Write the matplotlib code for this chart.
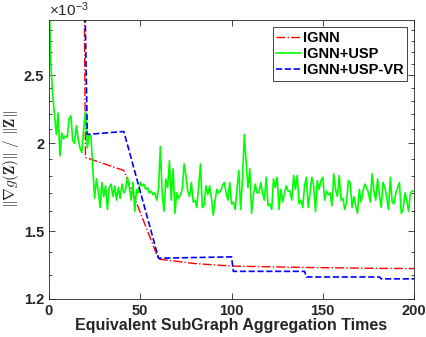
import matplotlib
matplotlib.use('Agg')
import matplotlib.pyplot as plt
from matplotlib.ticker import FixedLocator, NullFormatter, FixedFormatter

plt.rcParams['font.family'] = ['Liberation Sans', 'DejaVu Sans']
plt.rcParams['mathtext.fontset'] = 'cm'

# values in units of 1e-3
ignn_x = [19, 20, 41, 60, 80, 100, 120, 140, 160, 180, 200]
ignn_y = [4.0, 1.91, 1.83, 1.368, 1.348, 1.337, 1.334, 1.331, 1.329, 1.327, 1.326]

vr_x = [19, 21, 41, 60, 100, 101, 140, 141, 181, 182, 200]
vr_y = [4.0, 2.06, 2.08, 1.372, 1.378, 1.314, 1.314, 1.290, 1.290, 1.282, 1.282]

usp_y = [3.3, 2.6, 2.35, 2.2, 2.06, 2.21, 1.92, 2.07, 2.03, 2.05,
         2.04, 2.17, 2.19, 2.02, 2.0, 2.12, 2.03, 1.97, 1.94, 2.1,
         2.22, 1.97, 2.06, 2.05, 1.84, 1.67, 1.78, 1.71, 1.62, 1.76,
         1.68, 1.74, 1.61, 1.73, 1.75, 1.68, 1.74, 1.66, 1.73, 1.67,
         1.75, 1.70, 1.72, 1.79, 1.73, 1.66, 1.76, 1.60, 1.72, 1.70,
         1.76, 1.74, 1.75, 1.72, 1.73, 1.70, 1.71, 1.69, 1.70, 1.66,
         1.72, 1.98, 1.70, 1.60, 1.78, 1.73, 1.89, 1.66, 1.84, 1.59,
         1.70, 1.67, 1.69, 1.72, 1.87, 1.80, 1.71, 1.68, 1.76, 1.65,
         1.66, 1.62, 1.74, 1.87, 1.62, 1.63, 1.74, 1.69, 1.74, 1.67,
         1.58, 1.66, 1.72, 1.70, 1.71, 1.74, 1.76, 1.70, 1.66, 1.76,
         1.64, 1.65, 1.61, 1.72, 1.83, 1.61, 1.78, 2.06, 1.88, 1.73,
         1.84, 1.59, 1.69, 1.75, 1.70, 1.70, 1.76, 1.70, 1.66, 1.79,
         1.63, 1.64, 1.61, 1.78, 1.73, 1.79, 1.61, 1.72, 1.65, 1.70,
         1.74, 1.71, 1.71, 1.66, 1.80, 1.72, 1.80, 1.64, 1.66, 1.62,
         1.74, 1.79, 1.62, 1.70, 1.79, 1.74, 1.60, 1.77, 1.72, 1.77,
         1.79, 1.66, 1.71, 1.69, 1.70, 1.63, 1.81, 1.72, 1.68, 1.80,
         1.66, 1.67, 1.61, 1.65, 1.77, 1.76, 1.62, 1.68, 1.63, 1.59,
         1.72, 1.65, 1.71, 1.75, 1.73, 1.70, 1.65, 1.81, 1.71, 1.66,
         1.78, 1.69, 1.62, 1.76, 1.73, 1.68, 1.61, 1.79, 1.65, 1.64,
         1.70, 1.73, 1.76, 1.59, 1.61, 1.70, 1.66, 1.60, 1.70, 1.71,
         1.71]
usp_x = list(range(len(usp_y)))

y_major = [1.2, 1.5, 2.0, 2.5]
y_major_labels = ['1.2', '1.5', '2', '2.5']
y_minor = [1.3, 1.4, 1.6, 1.7, 1.8, 1.9, 2.1, 2.2, 2.3, 2.4, 2.6, 2.7, 2.8, 2.9]
x_ticks = [0, 50, 100, 150, 200]

fig = plt.figure(figsize=(4.26, 3.37), dpi=100)
ax = fig.add_axes([0.115, 0.1128, 0.857, 0.828])

ax.plot(ignn_x, ignn_y, color='#ff0000', linestyle='-.', linewidth=1.0, label='IGNN')
ax.plot(usp_x, usp_y, color='#00ff00', linestyle='-', linewidth=1.2, label='IGNN+USP')
ax.plot(vr_x, vr_y, color='#0000ff', linestyle='--', linewidth=1.2, label='IGNN+USP-VR')

ax.set_yscale('log')
ax.set_xlim(0, 200)
ax.set_ylim(1.2, 3.0)
ax.yaxis.set_major_locator(FixedLocator(y_major))
ax.yaxis.set_major_formatter(FixedFormatter(y_major_labels))
ax.yaxis.set_minor_locator(FixedLocator(y_minor))
ax.yaxis.set_minor_formatter(NullFormatter())
ax.xaxis.set_major_locator(FixedLocator(x_ticks))

ax.tick_params(which='both', direction='in', top=True, right=True, colors='#262626',
               labelsize=10.5, width=0.6)
ax.tick_params(which='major', length=4)
ax.tick_params(which='minor', length=2.5)
for lab in ax.get_xticklabels() + ax.get_yticklabels():
    lab.set_fontweight('bold')
for sp in ax.spines.values():
    sp.set_color('#262626')
    sp.set_linewidth(0.6)

ax.set_xlabel('Equivalent SubGraph Aggregation Times', fontsize=11.5, fontweight='bold',
              color='#262626', labelpad=0)
ax.set_ylabel(r'$\|\nabla g(\mathbf{Z})\|\ /\ \|\mathbf{Z}\|$', fontsize=11, color='#262626',
              labelpad=2)
ax.text(0.0, 1.005, r'$\mathregular{\times10^{-3}}$', transform=ax.transAxes, fontsize=11,
        ha='left', va='bottom', color='#262626')

leg = ax.legend(loc='upper right', prop={'weight': 'bold', 'size': 10.5},
                handlelength=1.7, handletextpad=0.1, borderpad=0.25, labelspacing=0.15,
                fancybox=False, framealpha=1, edgecolor='#262626', borderaxespad=0.5)
leg.get_frame().set_linewidth(0.6)

fig.savefig('out.png', dpi=100)
